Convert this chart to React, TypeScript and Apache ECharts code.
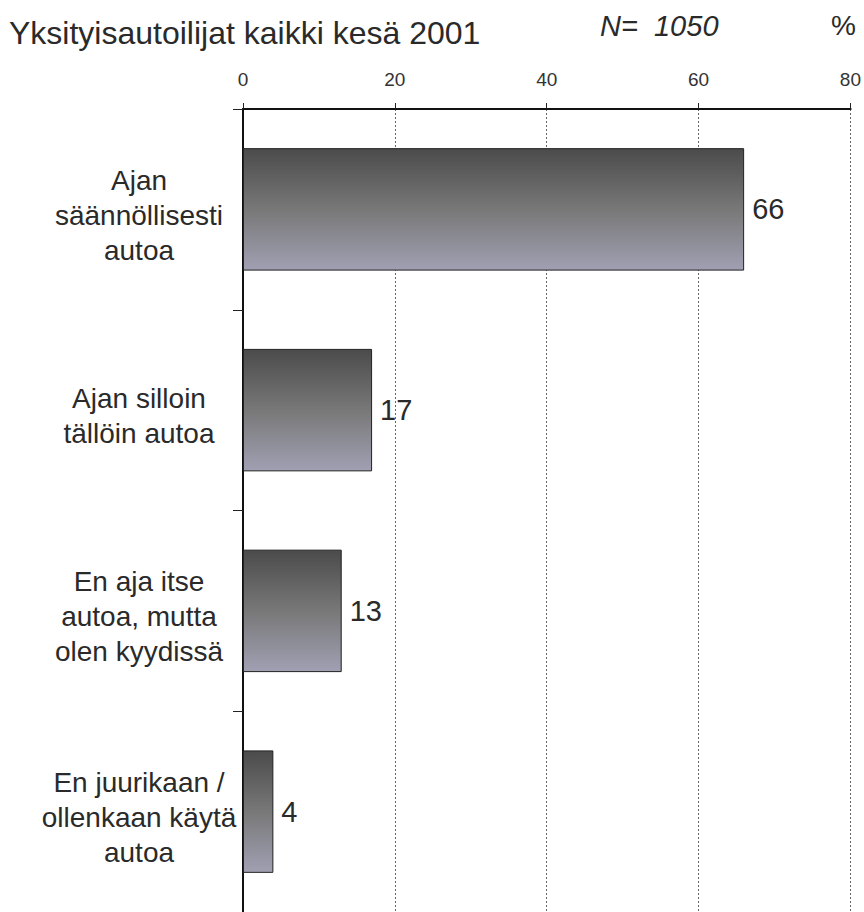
import React, { useEffect, useRef } from "react";
import * as echarts from "echarts";

const categories = [
  "Ajan\nsäännöllisesti\nautoa",
  "Ajan silloin\ntällöin autoa",
  "En aja itse\nautoa, mutta\nolen kyydissä",
  "En juurikaan /\nollenkaan käytä\nautoa",
];
const values = [66, 17, 13, 4];
const xTicks = [0, 20, 40, 60, 80];
const titleText = "Yksityisautoilijat kaikki kesä 2001";
const nText = "N=  1050";
const unitText = "%";

export default function App() {
  const ref = useRef<HTMLDivElement>(null);
  useEffect(() => {
    if (!ref.current) return;
    const chart = echarts.init(ref.current, null, { renderer: "svg" });
    const font = "Liberation Sans, Arial, sans-serif";
    const xMin = xTicks[0];
    const xMax = xTicks[xTicks.length - 1];
    chart.setOption({
      animation: false,
      backgroundColor: "#ffffff",
      textStyle: { fontFamily: font },
      graphic: [
        {
          type: "text",
          left: 9,
          top: 17,
          style: { text: titleText, font: `32px ${font}`, fill: "#2a2a2a" },
        },
        {
          type: "text",
          left: 600,
          top: 11,
          style: { text: nText, font: `italic 29px ${font}`, fill: "#2a2a2a" },
        },
        {
          type: "text",
          left: 831,
          top: 11,
          style: { text: unitText, font: `28px ${font}`, fill: "#2a2a2a" },
        },
      ],
      grid: { left: 243, right: 6, top: 109, bottom: -4, containLabel: false },
      xAxis: [
        {
          type: "value",
          position: "top",
          min: xMin,
          max: xMax,
          interval: 20,
          axisLine: { show: true, lineStyle: { color: "#111", width: 2 } },
          axisTick: { show: true, length: 6, lineStyle: { color: "#222" } },
          axisLabel: { color: "#333", fontSize: 19, margin: 20, fontFamily: font },
          splitLine: {
            show: true,
            lineStyle: { color: "#666", type: [2, 2], width: 1 },
          },
        },
        {
          type: "value",
          position: "top",
          offset: 0,
          min: xMin,
          max: xMax,
          interval: 20,
          axisLine: { show: true, onZero: false, lineStyle: { color: "#111", width: 2 } },
          axisTick: { show: false },
          axisLabel: { show: false },
          splitLine: { show: false },
        },
      ],
      yAxis: {
        type: "category",
        inverse: true,
        data: categories,
        axisLine: { show: true, lineStyle: { color: "#111", width: 2 } },
        axisTick: { show: true, length: 10, lineStyle: { color: "#222" } },
        axisLabel: {
          color: "#2a2a2a",
          align: "center",
          margin: 104,
          fontFamily: font,
          formatter: (v: string) =>
            "{s| }\n" + v.split("\n").map((line) => `{l|${line}}`).join("\n"),
          rich: {
            s: { fontSize: 2, lineHeight: 12 },
            l: { fontSize: 28, lineHeight: 35, color: "#2a2a2a", fontFamily: font },
          },
        },
      },
      series: [
        {
          type: "bar",
          xAxisIndex: 0,
          data: values,
          barCategoryGap: "39%",
          itemStyle: {
            color: new echarts.graphic.LinearGradient(0, 0, 0, 1, [
              { offset: 0, color: "#4b4b4b" },
              { offset: 0.5, color: "#787878" },
              { offset: 1, color: "#a0a0b3" },
            ]),
            borderColor: "#222",
            borderWidth: 1,
          },
          label: {
            show: true,
            position: "right",
            distance: 8,
            color: "#2a2a2a",
            fontSize: 29,
            fontFamily: font,
          },
        },
      ],
    });
    return () => chart.dispose();
  }, []);
  return (
    <div
      ref={ref}
      style={{ position: "fixed", left: 0, top: 0, width: 864, height: 912 }}
    />
  );
}
